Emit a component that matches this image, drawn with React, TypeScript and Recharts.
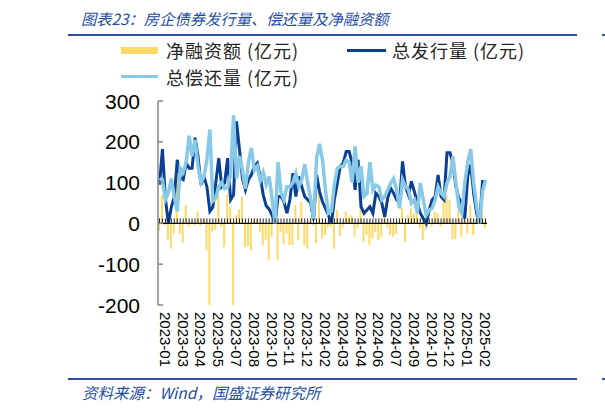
import React from 'react'
import { ComposedChart, Bar, Line, XAxis, YAxis, ReferenceLine } from 'recharts'

// weekly data, 2023-01 .. 2025-02
const tickLabels = [
  '2023-01', '2023-03', '2023-04', '2023-05', '2023-07', '2023-08', '2023-10',
  '2023-11', '2023-12', '2024-02', '2024-03', '2024-04', '2024-06', '2024-07',
  '2024-09', '2024-10', '2024-12', '2025-01', '2025-02',
]

// 总发行量(亿元)
const issuance = [
  95, 182, 60, 0, 40, 65, 156, 111, 107, 148, 135, 135, 210, 164, 95, 115, 90, 30, 40, 100,
  160, 90, 99, 160, 58, 70, 250, 180, 110, 82, 107, 119, 140, 148, 115, 70, 43, 35, 20, 0,
  66, 66, 53, 25, 58, 123, 66, 115, 90, 66, 58, 50, 8, 119, 78, 53, 37, 20, 0, 58,
  99, 140, 148, 176, 176, 148, 82, 156, 41, 25, 33, 41, 25, 74, 66, 50, 16, 62, 86, 74,
  58, 50, 152, 90, 70, 103, 78, 50, 25, 12, 0, 33, 58, 66, 119, 66, 58, 173, 173, 148,
  90, 62, 50, 12, 115, 144, 74, 25, 2, 103, 103,
]

// 总偿还量(亿元)
const repayment = [
  110, 107, 58, 75, 110, 65, 30, 135, 125, 150, 215, 165, 205, 140, 100, 115, 156, 230, 55, 62,
  90, 100, 85, 88, 120, 265, 110, 165, 130, 85, 150, 185, 130, 140, 105, 125, 95, 115, 60, 0,
  150, 75, 58, 90, 90, 100, 122, 90, 107, 145, 100, 60, 10, 160, 195, 155, 82, 25, 30, 95,
  135, 140, 140, 155, 150, 100, 189, 100, 140, 66, 74, 150, 82, 94, 90, 58, 66, 82, 99, 110,
  82, 37, 107, 90, 82, 50, 58, 25, 99, 58, 20, 33, 37, 58, 90, 74, 66, 99, 115, 164,
  99, 41, 25, 100, 150, 182, 99, 41, 0, 78, 107,
]

// 净融资额(亿元)
const netFinancing = [
  -18, 70, -5, -41, -62, -25, 127, -25, -49, 45, -8, 5, -5, 29, -6, 12, -66, -200, -20, -16,
  70, -8, -58, 70, 41, -200, 20, 33, 66, -58, -56, -67, 8, 10, -20, -53, -41, -89, -33, 5,
  -89, -20, -51, -25, -53, -53, 45, -41, 53, -53, -62, 5, -5, -49, 78, -37, -29, -10, -8, -62,
  33, -31, -10, 29, 16, 20, -33, -12, 62, -45, -29, -53, -37, -20, -41, -33, 29, -10, -29, -33,
  -26, 5, 37, -45, 20, 37, 25, 25, -12, -41, -16, 3, -8, 29, 25, -8, 70, 70, 58, -39,
  -39, 33, -33, 37, -25, 45, -29, 10, 3, 33, -12,
]

const data = issuance.map((v, i) => ({
  idx: String(i),
  label: i % 6 === 2 ? tickLabels[(i - 2) / 6] : '',
  issuance: v,
  repayment: repayment[i],
  net: netFinancing[i],
}))

const latin = '"Liberation Sans", Arial, sans-serif'
const cjk = '"Noto Sans CJK SC", sans-serif'
const BLUE = '#2f5597'
const DARK = '#0b3f93'
const LIGHT = '#88c9e8'
const YELLOW = '#ffd966'

const XTick = (props: any) => {
  const { x, y, payload } = props
  const label = data[Number(payload.value)]?.label
  if (!label) return <g />
  return (
    <text
      transform={`translate(${x},${y + 7}) rotate(90)`}
      textAnchor="start"
      dominantBaseline="central"
      fontSize={15}
      fontFamily={latin}
      fill="#000"
    >
      {label}
    </text>
  )
}

const YTick = (props: any) => {
  const { x, y, payload } = props
  return (
    <g>
      <line x1={x + 18} x2={x + 23} y1={y} y2={y} stroke="#868686" strokeWidth={1.5} />
      <text x={x} y={y} textAnchor="end" dominantBaseline="central" fontSize={21} fontFamily={latin} fill="#000">
        {payload.value}
      </text>
    </g>
  )
}

const ZeroTick = (props: any) => (
  <line key={props.index} x1={props.cx} x2={props.cx} y1={props.cy} y2={props.cy - 5} stroke="#222" strokeWidth={1} />
)

const abs = (s: React.CSSProperties): React.CSSProperties => ({ position: 'absolute', ...s })
const legendText: React.CSSProperties = {
  fontSize: 18,
  lineHeight: '18px',
  letterSpacing: 1,
  fontFamily: cjk,
  color: '#262626',
  whiteSpace: 'pre',
}

export default function App() {
  return (
    <div style={{ position: 'fixed', left: 0, top: 0, width: 605, height: 411, background: '#fff' }}>
      <div style={abs({ left: 81, top: 8, fontSize: 15.3, lineHeight: '20px', fontFamily: cjk, fontStyle: 'italic', color: '#1f4e9f', whiteSpace: 'nowrap' })}>
        图表23：房企债券发行量、偿还量及净融资额
      </div>
      <div style={abs({ left: 68, top: 34, width: 509, height: 2, background: BLUE })} />
      <div style={abs({ left: 602, top: 34, width: 3, height: 2, background: BLUE })} />

      <div style={abs({ left: 121, top: 47, width: 37, height: 7, background: YELLOW })} />
      <div style={abs({ left: 166, top: 41, ...legendText })}>净融资额 (亿元)</div>
      <div style={abs({ left: 347, top: 49, width: 39, height: 3, background: DARK })} />
      <div style={abs({ left: 392, top: 41, ...legendText })}>总发行量 (亿元)</div>
      <div style={abs({ left: 121, top: 75, width: 37, height: 3, background: LIGHT })} />
      <div style={abs({ left: 166, top: 68, ...legendText })}>总偿还量 (亿元)</div>

      <div style={abs({ left: 0, top: 0 })}>
        <ComposedChart width={605} height={411} data={data} margin={{ top: 101, right: 118, bottom: 46, left: 98 }}>
          <XAxis
            dataKey="idx"
            interval={0}
            height={60}
            axisLine={false}
            tickLine={false}
            tickSize={0}
            tickMargin={0}
            tick={<XTick />}
          />
          <YAxis
            domain={[-200, 300]}
            ticks={[-200, -100, 0, 100, 200, 300]}
            width={60}
            axisLine={{ stroke: '#868686', strokeWidth: 1.5 }}
            tickLine={false}
            tickSize={0}
            tickMargin={18}
            tick={<YTick />}
          />
          <Bar dataKey="net" fill={YELLOW} barSize={2} isAnimationActive={false} />
          <ReferenceLine y={0} stroke="#000" strokeWidth={1.3} />
          <Line dataKey={() => 0} stroke="none" dot={ZeroTick} activeDot={false} legendType="none" isAnimationActive={false} />
          <Line dataKey="issuance" type="linear" stroke={DARK} strokeWidth={3} dot={false} isAnimationActive={false} />
          <Line dataKey="repayment" type="linear" stroke={LIGHT} strokeWidth={3.5} dot={false} isAnimationActive={false} />
        </ComposedChart>
      </div>

      <div style={abs({ left: 68, top: 378, width: 509, height: 2, background: BLUE })} />
      <div style={abs({ left: 602, top: 378, width: 3, height: 2, background: BLUE })} />
      <div style={abs({ left: 82, top: 382, fontSize: 15.5, lineHeight: '20px', fontFamily: cjk, fontStyle: 'italic', color: '#1f4e9f', whiteSpace: 'nowrap' })}>
        资料来源：Wind，国盛证券研究所
      </div>
    </div>
  )
}
